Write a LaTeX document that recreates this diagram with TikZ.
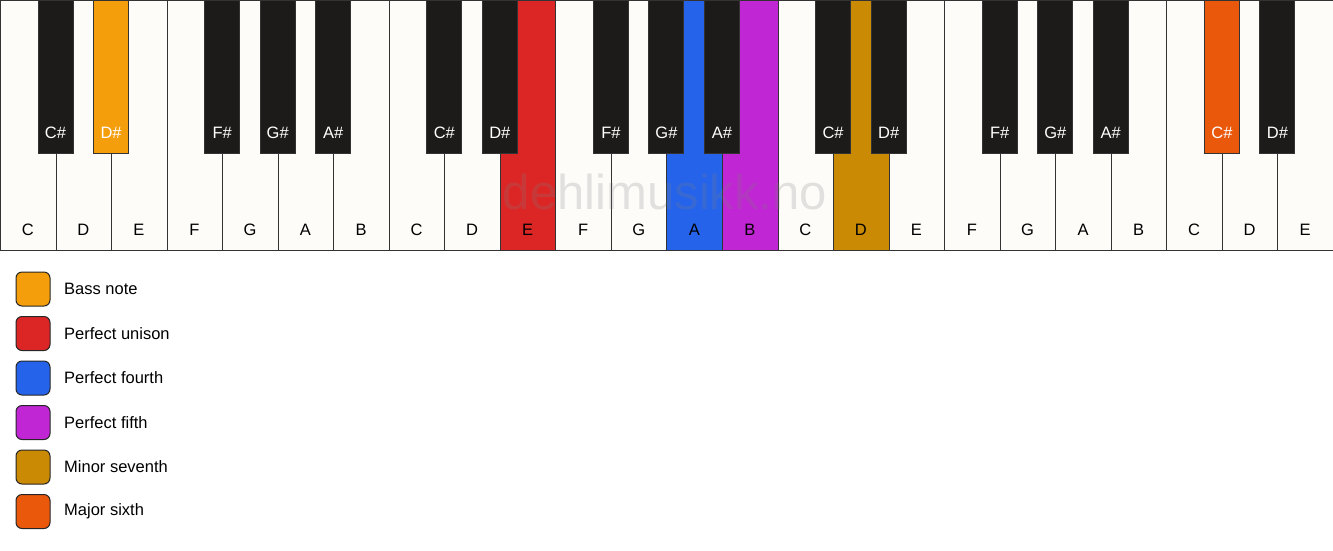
\documentclass[tikz,border=0pt]{standalone}
\usepackage{fontspec}
\setmainfont{Liberation Sans}
\usetikzlibrary{positioning}
\definecolor{ivory}{HTML}{FDFCF9}
\definecolor{ebony}{HTML}{1C1B19}
\definecolor{bassnote}{HTML}{F59E0B}
\definecolor{unison}{HTML}{DC2626}
\definecolor{fourth}{HTML}{2563EB}
\definecolor{fifth}{HTML}{C026D3}
\definecolor{minorsev}{HTML}{CA8A04}
\definecolor{majorsix}{HTML}{EA580C}
\newdimen\keyW
\keyW=55.54pt

\begin{document}
\begin{tikzpicture}[
    x=1pt, y=-1pt,
    font=\fontsize{16.5}{19}\selectfont,
    whitekey/.style={%
      draw=black!80,
      line width=1pt,
      rectangle,
      inner sep=0pt,
      minimum width=\keyW,
      minimum height=250pt,
      anchor=north west,
    },
    blackkey/.style={%
      draw=black!80,
      line width=1pt,
      rectangle,
      inner sep=0pt,
      minimum width=35pt,
      minimum height=153pt,
      anchor=north,
    },
    swatch/.style={%
      draw=black!85,
      line width=1pt,
      rounded corners=6pt,
      inner sep=0pt,
      minimum size=34pt,
    },
  ]

    \useasboundingbox (0,0) rectangle (1333,550);

    % white keys
    \foreach \n/\c [count=\i from 0] in {C/ivory,D/ivory,E/ivory,F/ivory,G/ivory,A/ivory,B/ivory,
        C/ivory,D/ivory,E/unison,F/ivory,G/ivory,A/fourth,B/fifth,
        C/ivory,D/minorsev,E/ivory,F/ivory,G/ivory,A/ivory,B/ivory,
        C/ivory,D/ivory,E/ivory} {
      \node [whitekey, fill=\c] (w\i) at (\i*\keyW, 0) {};
      \node (wl\i) at (\i*\keyW+0.5*\keyW, 230) {\n};
    }

    % black keys, placed on the boundary after white key \p
    \foreach \n/\p/\c in {C\#/0/ebony,D\#/1/bassnote,F\#/3/ebony,G\#/4/ebony,A\#/5/ebony,
        C\#/7/ebony,D\#/8/ebony,F\#/10/ebony,G\#/11/ebony,A\#/12/ebony,
        C\#/14/ebony,D\#/15/ebony,F\#/17/ebony,G\#/18/ebony,A\#/19/ebony,
        C\#/21/majorsix,D\#/22/ebony} {
      \node [blackkey, fill=\c] (b\p) at (\p*\keyW+\keyW, 0) {};
      \node [text=white] (bl\p) at (\p*\keyW+\keyW, 133) {\n};
    }

    \node [text=gray, text opacity=0.22, font=\fontsize{49}{52}\selectfont, anchor=base]
      (mark) at (665, 209) {dehlimusikk.no};

    % legend
    \foreach \t/\c [count=\k from 0] in {Bass note/bassnote,Perfect unison/unison,
        Perfect fourth/fourth,Perfect fifth/fifth,Minor seventh/minorsev,Major sixth/majorsix} {
      \node [swatch, fill=\c] (s\k) at (33, 289+\k*44.5) {};
      \node [anchor=west, inner sep=0pt] (t\k) at (64, 289+\k*44.5) {\t};
    }
\end{tikzpicture}
\end{document}
